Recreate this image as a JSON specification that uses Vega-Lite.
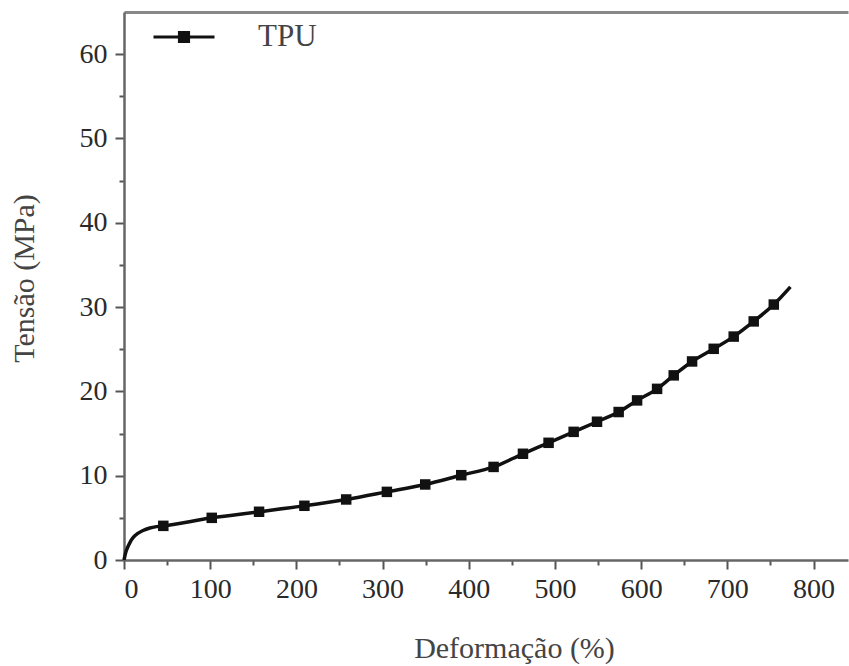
{
  "$schema": "https://vega.github.io/schema/vega-lite/v6.json",
  "width": 724,
  "height": 548,
  "autosize": {"type": "none"},
  "padding": {"left": 124, "top": 12, "right": 1, "bottom": 106},
  "background": "white",
  "config": {
    "view": {"stroke": null},
    "font": "Liberation Serif",
    "axis": {
      "labelFont": "Liberation Serif",
      "titleFont": "Liberation Serif",
      "labelColor": "#2a2a2a",
      "titleColor": "#444",
      "labelFontSize": 28,
      "titleFontSize": 30,
      "titleFontWeight": "normal",
      "domainColor": "#666",
      "domainWidth": 2.5,
      "tickColor": "#555",
      "tickWidth": 2,
      "grid": false
    }
  },
  "data": {
    "values": [
      {"strain": 0, "stress": 0, "kind": "curve"},
      {"strain": 2, "stress": 0.9, "kind": "curve"},
      {"strain": 4, "stress": 1.45, "kind": "curve"},
      {"strain": 7, "stress": 2.1, "kind": "curve"},
      {"strain": 11, "stress": 2.7, "kind": "curve"},
      {"strain": 16, "stress": 3.15, "kind": "curve"},
      {"strain": 22, "stress": 3.5, "kind": "curve"},
      {"strain": 30, "stress": 3.8, "kind": "curve"},
      {"strain": 38, "stress": 3.96, "kind": "curve"},
      {"strain": 45.6, "stress": 4.05, "kind": "marker"},
      {"strain": 101.8, "stress": 5.0, "kind": "marker"},
      {"strain": 156.7, "stress": 5.72, "kind": "marker"},
      {"strain": 209.3, "stress": 6.43, "kind": "marker"},
      {"strain": 257.8, "stress": 7.18, "kind": "marker"},
      {"strain": 305, "stress": 8.08, "kind": "marker"},
      {"strain": 349.5, "stress": 8.96, "kind": "marker"},
      {"strain": 391.3, "stress": 10.06, "kind": "marker"},
      {"strain": 428.8, "stress": 11.04, "kind": "marker"},
      {"strain": 462.9, "stress": 12.6, "kind": "marker"},
      {"strain": 492.6, "stress": 13.9, "kind": "marker"},
      {"strain": 521.7, "stress": 15.2, "kind": "marker"},
      {"strain": 548.8, "stress": 16.4, "kind": "marker"},
      {"strain": 573.9, "stress": 17.55, "kind": "marker"},
      {"strain": 595.3, "stress": 18.93, "kind": "marker"},
      {"strain": 618.5, "stress": 20.3, "kind": "marker"},
      {"strain": 637.8, "stress": 21.9, "kind": "marker"},
      {"strain": 659.1, "stress": 23.55, "kind": "marker"},
      {"strain": 684.2, "stress": 25.05, "kind": "marker"},
      {"strain": 707.4, "stress": 26.5, "kind": "marker"},
      {"strain": 730.6, "stress": 28.3, "kind": "marker"},
      {"strain": 753.9, "stress": 30.3, "kind": "marker"},
      {"strain": 773.2, "stress": 32.4, "kind": "curve"}
    ]
  },
  "resolve": {"axis": {"x": "independent"}},
  "layer": [
    {
      "mark": {"type": "line", "color": "#111", "strokeWidth": 3.5, "interpolate": "monotone"},
      "encoding": {
        "x": {
          "field": "strain", "type": "quantitative",
          "scale": {"domain": [0, 840], "nice": false},
          "axis": {
            "orient": "bottom",
            "values": [0, 50, 100, 150, 200, 250, 300, 350, 400, 450, 500, 550, 600, 650, 700, 750, 800],
            "labelExpr": "datum.value % 100 == 0 ? datum.label : ''",
            "tickSize": {"condition": {"test": "datum.value % 100 == 0", "value": 9}, "value": 5},
            "labelPadding": 6,
            "title": "Deformação (%)",
            "titleX": 390,
            "titlePadding": 30
          }
        },
        "y": {
          "field": "stress", "type": "quantitative",
          "scale": {"domain": [0, 65], "nice": false},
          "axis": {
            "orient": "left",
            "values": [0, 5, 10, 15, 20, 25, 30, 35, 40, 45, 50, 55, 60],
            "labelExpr": "datum.value % 10 == 0 ? datum.label : ''",
            "tickSize": {"condition": {"test": "datum.value % 10 == 0", "value": 9}, "value": 5},
            "labelPadding": 8,
            "title": "Tensão (MPa)",
            "titleY": 266,
            "titlePadding": 40
          }
        }
      }
    },
    {
      "transform": [{"filter": "datum.kind == 'marker'"}],
      "mark": {"type": "square", "filled": true, "size": 110, "opacity": 1},
      "encoding": {
        "x": {
          "field": "strain", "type": "quantitative",
          "axis": {"orient": "top", "labels": false, "ticks": false, "title": null, "domainColor": "#888", "domainWidth": 3}
        },
        "y": {"field": "stress", "type": "quantitative"},
        "color": {
          "datum": "TPU",
          "scale": {"range": ["#111"]},
          "legend": {
            "title": null,
            "orient": "none",
            "legendX": 28,
            "legendY": -7,
            "padding": 0,
            "symbolType": "M-1,0L1,0M-0.15,-0.15L0.15,-0.15L0.15,0.15L-0.15,0.15Z",
            "symbolSize": 3721,
            "symbolStrokeWidth": 3,
            "symbolStrokeColor": "#111",
            "symbolFillColor": "#111",
            "labelFont": "Liberation Serif",
            "labelFontSize": 31,
            "labelColor": "#444",
            "labelOffset": 42
          }
        }
      }
    }
  ]
}
